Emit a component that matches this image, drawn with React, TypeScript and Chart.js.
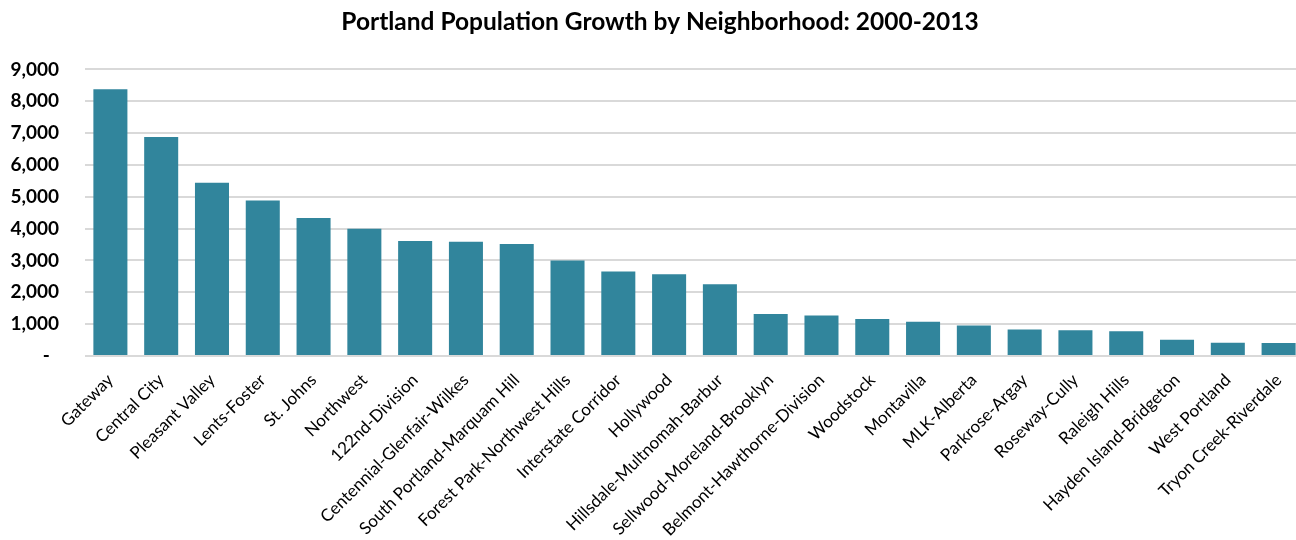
import React, { useEffect, useRef } from "react";
import { Chart, registerables } from "chart.js";

Chart.register(...registerables);

const categories: string[] = [
  "Gateway",
  "Central City",
  "Pleasant Valley",
  "Lents-Foster",
  "St. Johns",
  "Northwest",
  "122nd-Division",
  "Centennial-Glenfair-Wilkes",
  "South Portland-Marquam Hill",
  "Forest Park-Northwest Hills",
  "Interstate Corridor",
  "Hollywood",
  "Hillsdale-Multnomah-Barbur",
  "Sellwood-Moreland-Brooklyn",
  "Belmont-Hawthorne-Division",
  "Woodstock",
  "Montavilla",
  "MLK-Alberta",
  "Parkrose-Argay",
  "Roseway-Cully",
  "Raleigh Hills",
  "Hayden Island-Bridgeton",
  "West Portland",
  "Tryon Creek-Riverdale",
];

const growth: number[] = [
  8380, 6880, 5440, 4885, 4330, 3995, 3610, 3585, 3515, 3000, 2655, 2570,
  2250, 1317, 1275, 1160, 1075, 960, 835, 805, 775, 510, 415, 405,
];

const yTicks: number[] = [0, 1000, 2000, 3000, 4000, 5000, 6000, 7000, 8000, 9000];

const titleText = "Portland Population Growth by Neighborhood: 2000-2013";

const centeredTitle = {
  id: "centeredTitle",
  afterDraw(chart: any) {
    const ctx = chart.ctx;
    ctx.save();
    ctx.font = "bold 24.5px Lato";
    ctx.fillStyle = "#000";
    ctx.textAlign = "center";
    ctx.textBaseline = "middle";
    ctx.fillText(titleText, chart.width / 2, 21.7);
    ctx.restore();
  },
};

export default function App() {
  const ref = useRef<HTMLCanvasElement | null>(null);

  useEffect(() => {
    document.documentElement.style.overflow = "hidden";
    document.body.style.overflow = "hidden";
    const canvas = ref.current;
    if (!canvas) return;
    const chart = new Chart(canvas, {
      type: "bar",
      data: {
        labels: categories,
        datasets: [
          {
            label: "Growth",
            data: growth,
            backgroundColor: "#31859C",
            borderWidth: 0,
            categoryPercentage: 1,
            barPercentage: 0.67,
          },
        ],
      },
      plugins: [centeredTitle],
      options: {
        animation: false,
        responsive: false,
        devicePixelRatio: 1,
        layout: { padding: { left: 0, right: 16, top: 69.4, bottom: 0 } },
        plugins: {
          legend: { display: false },
          tooltip: { enabled: false },
          title: { display: false },
        },
        scales: {
          x: {
            grid: { display: false },
            border: { display: false },
            ticks: {
              autoSkip: false,
              maxRotation: 45,
              minRotation: 45,
              color: "#000",
              font: { family: "Lato", size: 17 },
              padding: 6,
              labelOffset: 0,
            },
            afterFit: (scale: any) => {
              scale.height = 184;
            },
          },
          y: {
            min: 0,
            max: 9000,
            afterBuildTicks: (scale: any) => {
              scale.ticks = yTicks.map((v) => ({ value: v }));
            },
            ticks: {
              color: "#000",
              font: { family: "Lato", size: 19, weight: "bold" },
              padding: 26,
              callback: (v: any) =>
                Number(v) === 0 ? "-  " : Number(v).toLocaleString("en-US"),
            },
            grid: { color: "#d9d9d9", lineWidth: 2, drawTicks: false },
            border: { display: false },
            afterFit: (scale: any) => {
              scale.width = 85;
            },
          },
        },
      },
    });
    return () => chart.destroy();
  }, []);

  return (
    <div
      style={{
        position: "fixed",
        left: 0,
        top: 0,
        width: 1320,
        height: 540,
        background: "#fff",
      }}
    >
      <canvas ref={ref} width={1320} height={540} />
    </div>
  );
}
